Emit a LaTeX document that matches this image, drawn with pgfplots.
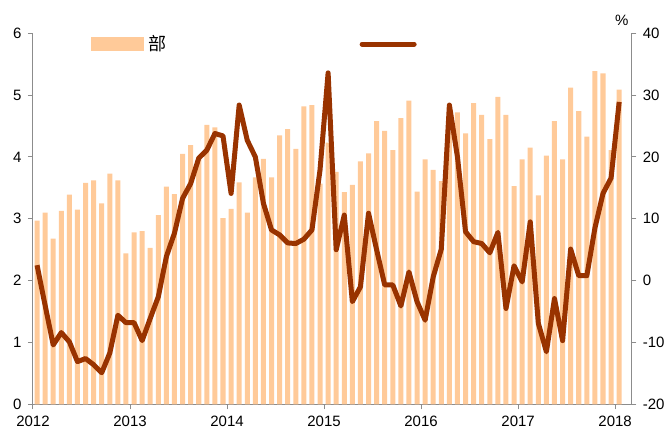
\documentclass[border=0pt]{standalone}
\usepackage{pgfplots}
\usepackage{pgfplotstable}
\pgfplotsset{compat=1.18}
\usepackage{fontspec}
\setmainfont{Liberation Sans}
\newfontfamily\cjk{Noto Sans CJK SC}
\definecolor{barcol}{HTML}{FFCA99}
\definecolor{linecol}{HTML}{993300}
\definecolor{axcol}{HTML}{8C8C8C}

\pgfplotstableread{
x y
0 2.97
1 3.10
2 2.68
3 3.13
4 3.39
5 3.15
6 3.58
7 3.62
8 3.25
9 3.73
10 3.62
11 2.44
12 2.78
13 2.80
14 2.53
15 3.06
16 3.52
17 3.40
18 4.05
19 4.19
20 4.00
21 4.52
22 4.48
23 3.01
24 3.16
25 3.59
26 3.10
27 3.67
28 3.97
29 3.67
30 4.35
31 4.45
32 4.13
33 4.82
34 4.84
35 3.57
36 4.23
37 3.76
38 3.43
39 3.55
40 3.93
41 4.06
42 4.58
43 4.42
44 4.11
45 4.63
46 4.91
47 3.44
48 3.96
49 3.79
50 3.61
51 4.40
52 4.72
53 4.38
54 4.87
55 4.68
56 4.29
57 4.97
58 4.68
59 3.53
60 3.96
61 4.15
62 3.38
63 4.02
64 4.58
65 3.96
66 5.12
67 4.74
68 4.33
69 5.39
70 5.35
71 4.11
72 5.09
}\bardata

\pgfplotstableread{
x y
0 2.5
1 -4.0
2 -10.4
3 -8.4
4 -9.9
5 -13.1
6 -12.6
7 -13.6
8 -14.9
9 -11.7
10 -5.6
11 -6.8
12 -6.8
13 -9.7
14 -6.1
15 -2.6
16 3.9
17 7.7
18 13.3
19 15.7
20 19.8
21 21.1
22 23.8
23 23.4
24 14.1
25 28.4
26 22.7
27 20.0
28 12.5
29 8.2
30 7.4
31 6.1
32 6.0
33 6.7
34 8.2
35 17.9
36 33.6
37 5.0
38 10.6
39 -3.4
40 -1.0
41 10.9
42 5.0
43 -0.7
44 -0.7
45 -4.1
46 1.4
47 -3.4
48 -6.4
49 0.6
50 5.1
51 28.4
52 20.0
53 7.9
54 6.3
55 6.0
56 4.5
57 7.8
58 -4.5
59 2.4
60 -0.2
61 9.5
62 -6.9
63 -11.5
64 -2.9
65 -9.7
66 5.1
67 0.8
68 0.8
69 8.5
70 14.1
71 16.6
72 28.9
}\linedata

\pgfplotsset{
  common/.style={
    at={(33pt,28.7pt)}, anchor=south west,
    scale only axis, width=598.3pt, height=371pt,
    xmin=-0.5, xmax=73.5,
    axis line style={axcol, line width=1pt},
    tick style={axcol, line width=1pt},
    tick align=outside, major tick length=5pt,
    tick label style={font=\fontsize{15}{18}\selectfont, text=black},
    /pgf/number format/assume math mode=true,
    clip=false,
  }
}

\begin{document}
\begin{tikzpicture}
\useasboundingbox (0,0) rectangle (668pt,433pt);
\begin{axis}[common,
  ymin=0, ymax=6, ytick={0,1,...,6},
  xtick={-0.5,11.5,23.5,35.5,47.5,59.5,71.5},
  xticklabels={2012,2013,2014,2015,2016,2017,2018},
  axis x line*=bottom, axis y line*=left,
  yticklabel style={xshift=-3pt},
  xticklabel style={yshift=-3pt},
]
\addplot[ybar, bar width=0.62, fill=barcol, draw=none] table[x=x,y=y] {\bardata};
\end{axis}
\begin{axis}[common,
  ymin=-20, ymax=40, ytick={-20,-10,...,40},
  axis x line=none, axis y line*=right,
  yticklabel style={xshift=3pt},
  legend columns=2,
  legend style={draw=none, fill=none, at={(0.097,0.971)}, anchor=west,
    inner sep=0pt, font=\fontsize{18}{20}\selectfont,
    /tikz/every even column/.append style={column sep=191pt}},
]
\addlegendimage{legend image code/.code={\fill[barcol] (0pt,-6.5pt) rectangle (52pt,6.5pt);}}
\addlegendentry{\hspace{3pt}\cjk 部}
\addplot[linecol, line width=5pt, line join=round, mark=none,
  legend image code/.code={\draw[linecol, line width=5pt, line cap=round] (2pt,0pt) -- (54pt,0pt);}]
  table[x=x,y=y] {\linedata};
\addlegendentry{}
\node[anchor=south, font=\fontsize{15}{18}\selectfont] at (rel axis cs:0.984,1) [yshift=4pt] {\%};
\end{axis}
\end{tikzpicture}
\end{document}
